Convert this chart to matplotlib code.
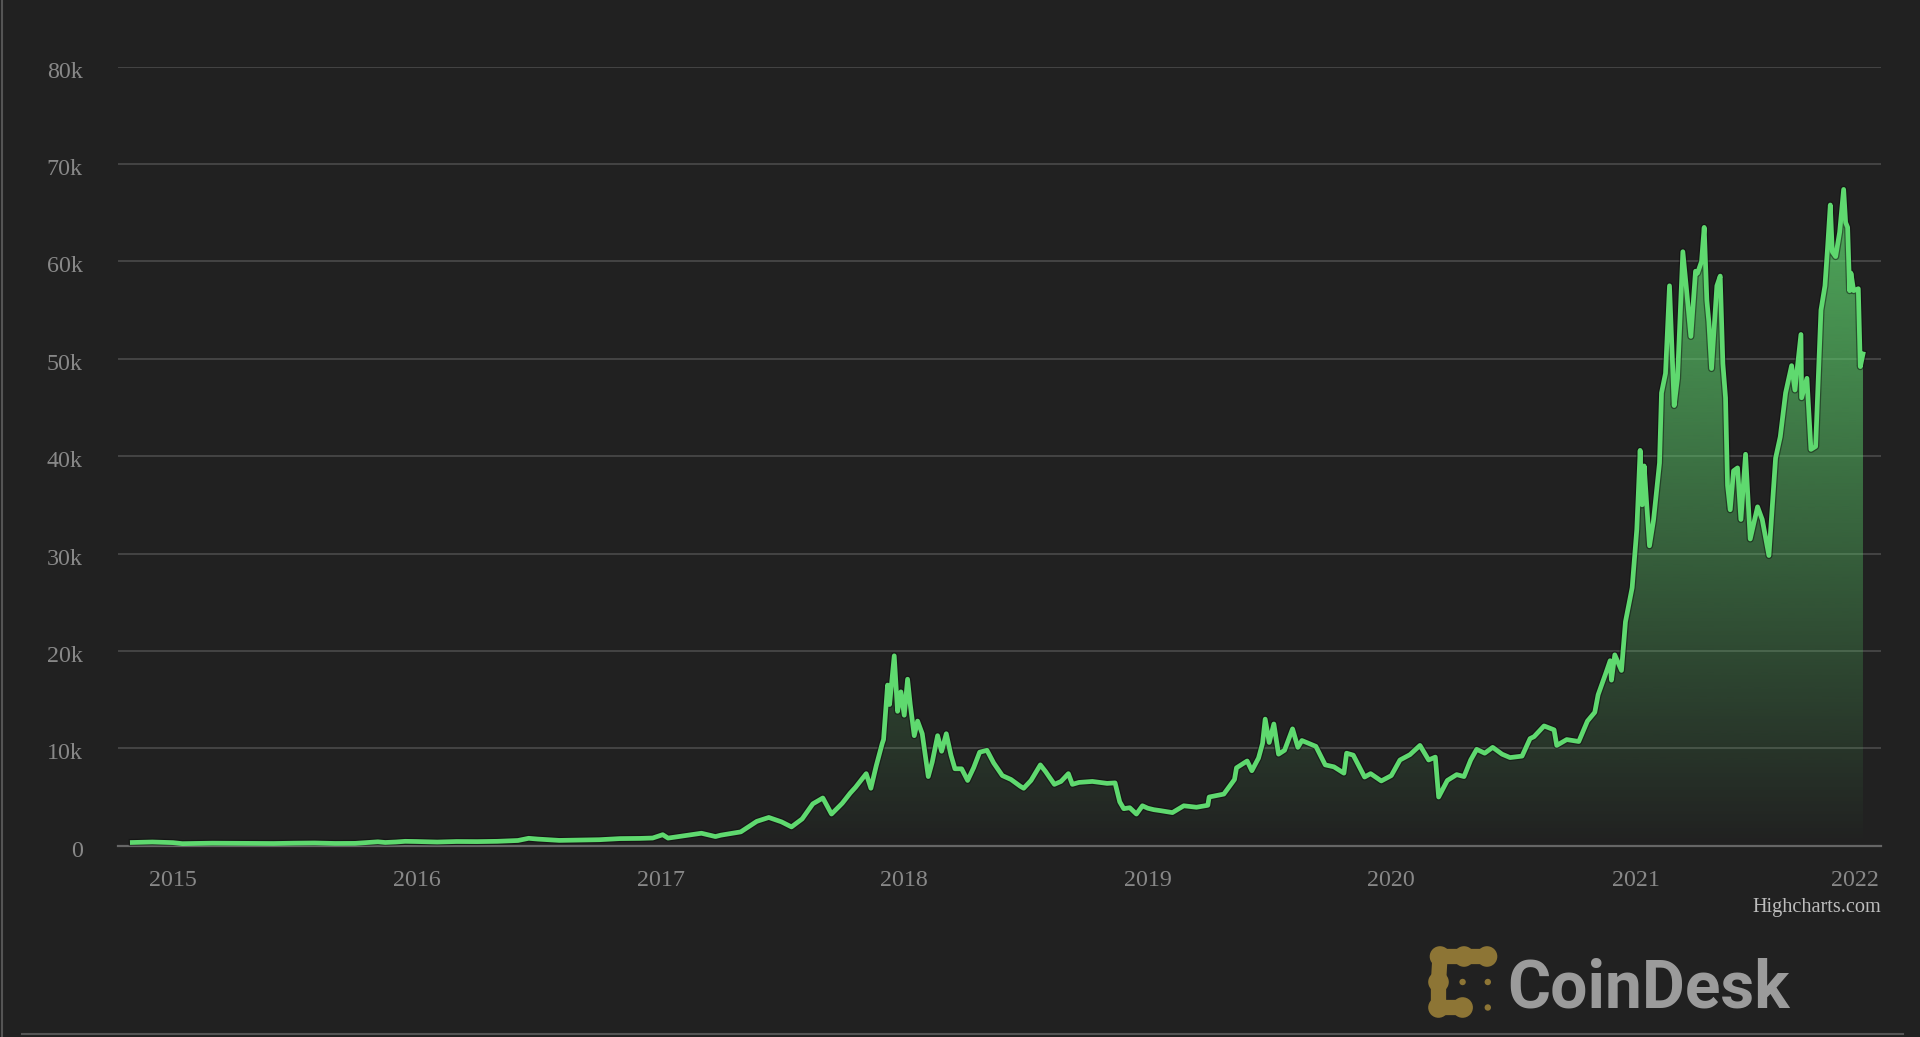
import matplotlib
matplotlib.use('Agg')
import matplotlib.pyplot as plt
import matplotlib.dates as mdates
import matplotlib.patheffects as pe
from matplotlib.patches import Circle
from matplotlib.transforms import ScaledTranslation
import numpy as np
import pandas as pd

plt.rcParams['font.family'] = ['Liberation Serif', 'DejaVu Serif']

# BTC price (USD)
dates = [
    '2014-11-01', '2014-12-01', '2015-01-01', '2015-01-15', '2015-02-01', '2015-03-01',
    '2015-04-01', '2015-05-01', '2015-06-01', '2015-07-01', '2015-08-01', '2015-09-01',
    '2015-10-01', '2015-11-04', '2015-11-15', '2015-12-01', '2015-12-15', '2016-01-01',
    '2016-02-01', '2016-03-01', '2016-04-01', '2016-05-01', '2016-06-01', '2016-06-17',
    '2016-07-01', '2016-08-02', '2016-09-01', '2016-10-01', '2016-11-01', '2016-12-01',
    '2016-12-20', '2017-01-04', '2017-01-12', '2017-02-01', '2017-03-03', '2017-03-24',
    '2017-04-01', '2017-05-01', '2017-05-25', '2017-06-12', '2017-07-01', '2017-07-16',
    '2017-08-01', '2017-08-17', '2017-09-01', '2017-09-14', '2017-09-30', '2017-10-12',
    '2017-10-20', '2017-11-05', '2017-11-12', '2017-11-20', '2017-11-29', '2017-12-01',
    '2017-12-07', '2017-12-10', '2017-12-17', '2017-12-22', '2017-12-27', '2018-01-01',
    '2018-01-06', '2018-01-10', '2018-01-16', '2018-01-21', '2018-01-28', '2018-02-06',
    '2018-02-12', '2018-02-20', '2018-02-26', '2018-03-05', '2018-03-12', '2018-03-18',
    '2018-03-28', '2018-04-06', '2018-04-15', '2018-04-24', '2018-05-05', '2018-05-15',
    '2018-05-28', '2018-06-10', '2018-06-24', '2018-06-29', '2018-07-10', '2018-07-24',
    '2018-08-01', '2018-08-14', '2018-08-24', '2018-09-04', '2018-09-10', '2018-09-20',
    '2018-10-10', '2018-11-01', '2018-11-13', '2018-11-20', '2018-11-26', '2018-12-05',
    '2018-12-15', '2018-12-24', '2019-01-01', '2019-01-10', '2019-01-20', '2019-02-07',
    '2019-02-24', '2019-03-15', '2019-04-01', '2019-04-03', '2019-04-25', '2019-05-11',
    '2019-05-14', '2019-05-30', '2019-06-06', '2019-06-16', '2019-06-22', '2019-06-26',
    '2019-07-02', '2019-07-09', '2019-07-16', '2019-07-25', '2019-08-06', '2019-08-14',
    '2019-08-20', '2019-09-10', '2019-09-24', '2019-10-07', '2019-10-22', '2019-10-26',
    '2019-11-05', '2019-11-22', '2019-12-01', '2019-12-17', '2020-01-01', '2020-01-14',
    '2020-01-29', '2020-02-13', '2020-02-26', '2020-03-07', '2020-03-12', '2020-03-25',
    '2020-04-08', '2020-04-19', '2020-04-29', '2020-05-08', '2020-05-20', '2020-06-01',
    '2020-06-15', '2020-06-27', '2020-07-15', '2020-07-27', '2020-08-02', '2020-08-17',
    '2020-09-01', '2020-09-05', '2020-09-20', '2020-10-08', '2020-10-21', '2020-11-01',
    '2020-11-06', '2020-11-18', '2020-11-24', '2020-11-26', '2020-12-01', '2020-12-11',
    '2020-12-17', '2020-12-27', '2021-01-03', '2021-01-08', '2021-01-11', '2021-01-14',
    '2021-01-22', '2021-01-28', '2021-02-06', '2021-02-09', '2021-02-15', '2021-02-21',
    '2021-02-28', '2021-03-05', '2021-03-13', '2021-03-18', '2021-03-25', '2021-04-01',
    '2021-04-04', '2021-04-10', '2021-04-14', '2021-04-18', '2021-04-21', '2021-04-25',
    '2021-05-03', '2021-05-08', '2021-05-12', '2021-05-16', '2021-05-19', '2021-05-23',
    '2021-05-28', '2021-06-03', '2021-06-08', '2021-06-15', '2021-06-22', '2021-07-03',
    '2021-07-10', '2021-07-20', '2021-07-30', '2021-08-06', '2021-08-14', '2021-08-23',
    '2021-08-28', '2021-09-06', '2021-09-07', '2021-09-15', '2021-09-21', '2021-09-28',
    '2021-10-06', '2021-10-12', '2021-10-16', '2021-10-20', '2021-10-23', '2021-10-28',
    '2021-11-03', '2021-11-09', '2021-11-12', '2021-11-15', '2021-11-18', '2021-11-20',
    '2021-11-24', '2021-12-01', '2021-12-04', '2021-12-08',
]
prices = [
    330, 380, 315, 210, 225, 260,
    245, 235, 225, 260, 280, 230,
    240, 400, 330, 380, 450, 430,
    375, 430, 420, 450, 535, 760,
    680, 545, 575, 615, 730, 750,
    790, 1130, 780, 980, 1280, 940,
    1080, 1420, 2500, 2900, 2450, 1930,
    2750, 4300, 4900, 3250, 4350, 5400,
    6000, 7400, 5900, 8200, 10500, 10900,
    16500, 14500, 19500, 13800, 15800, 13400,
    17100, 14500, 11300, 12800, 11500, 7100,
    8600, 11300, 9700, 11500, 9300, 7900,
    7900, 6700, 8000, 9600, 9800, 8500,
    7200, 6800, 6100, 5900, 6700, 8300,
    7600, 6300, 6600, 7400, 6300, 6500,
    6600, 6400, 6450, 4500, 3800, 3900,
    3250, 4100, 3850, 3700, 3600, 3400,
    4100, 3950, 4150, 5000, 5300, 6800,
    8000, 8700, 7700, 9000, 10500, 13000,
    10600, 12500, 9400, 9800, 12000, 10100,
    10800, 10200, 8300, 8100, 7450, 9500,
    9300, 7050, 7400, 6650, 7200, 8800,
    9350, 10300, 8800, 9100, 5000, 6700,
    7300, 7100, 8800, 9900, 9500, 10100,
    9400, 9050, 9200, 11000, 11200, 12300,
    11900, 10300, 10900, 10700, 12800, 13700,
    15500, 17800, 19000, 17000, 19600, 18000,
    23000, 26500, 32500, 40600, 35000, 39000,
    30800, 33400, 39300, 46500, 48500, 57500,
    45200, 48000, 61000, 57500, 52300, 59000,
    58800, 60000, 63500, 56000, 53800, 49000,
    57500, 58500, 49500, 46000, 37000, 34500,
    38500, 38800, 33500, 40200, 31500, 34800,
    33500, 29800, 39800, 42000, 46500, 49300,
    46800, 52500, 46000, 48000, 40700, 41000,
    55000, 57500, 61500, 65800, 61000, 60500,
    63000, 67400, 64000, 63500, 57000, 58800,
    57000, 57200, 49200, 50500,
]
year_labels = ['2015', '2016', '2017', '2018', '2019', '2020', '2021', '2022']
y_ticks = [0, 10000, 20000, 30000, 40000, 50000, 60000, 70000, 80000]
y_labels = ['0', '10k', '20k', '30k', '40k', '50k', '60k', '70k', '80k']

BG = '#212121'
GREEN = '#5fd96f'
W, H = 1920, 1037

fig = plt.figure(figsize=(19.2, 10.37), dpi=100, facecolor=BG)
ax = fig.add_axes([117.7 / W, 1 - 845.7 / H, (1881 - 117.7) / W, (845.7 - 66.7) / H])
ax.set_facecolor(BG)

x = mdates.date2num(pd.to_datetime(dates))
y = np.array(prices, dtype=float)

# gradient area under the line
coll = ax.fill_between(x, y, 0, facecolor='none', edgecolor='none')
rgb = matplotlib.colors.to_rgb(GREEN)
grad = np.zeros((256, 1, 4))
grad[..., :3] = rgb
grad[:, 0, 3] = np.linspace(0, 0.9, 256)
im = ax.imshow(grad, extent=[x[0], x[-1], 0, 80000], aspect='auto',
               origin='lower', zorder=2, interpolation='bilinear')
im.set_clip_path(coll.get_paths()[0], transform=ax.transData)

ax.plot(x, y, color=GREEN, lw=3.4, zorder=3, solid_joinstyle='round',
        path_effects=[pe.Stroke(linewidth=5.2, foreground='#0a0a0a', alpha=0.45), pe.Normal()])

year_pos = [mdates.date2num(pd.Timestamp(f'{yr}-01-01')) for yr in year_labels]
ax.set_xlim(year_pos[0] - 82.9, year_pos[-1] + 3)
ax.set_ylim(0, 80000)

ax.set_yticks(y_ticks)
ax.set_yticklabels(y_labels)
ax.set_xticks(year_pos)
ax.set_xticklabels(year_labels)
ax.yaxis.grid(True, color='#4a4a4a', lw=1.2)
ax.set_axisbelow(True)
for s in ax.spines.values():
    s.set_visible(False)
ax.axhline(0, color='#666666', lw=1.6, zorder=1.5, clip_on=False)

ax.tick_params(axis='both', length=0, labelsize=17.3, labelcolor='#888888')
ax.tick_params(axis='x', pad=17.5)
ax.tick_params(axis='y', pad=25)
ax.get_xticklabels()[-1].set_ha('right')
off = ScaledTranslation(0, -3 / 100, fig.dpi_scale_trans)
for lab in ax.get_yticklabels():
    lab.set_transform(lab.get_transform() + off)

# overlay in pixel coords for frame, credits and logo
ov = fig.add_axes([0, 0, 1, 1], zorder=5)
ov.set_xlim(0, W)
ov.set_ylim(H, 0)
ov.axis('off')
ov.patch.set_alpha(0)
ov.plot([1.5, 1.5], [0, H], color='#555555', lw=1.5)
ov.plot([22, 1903], [1034, 1034], color='#555555', lw=1.5)

ov.text(1881, 907.5, 'Highcharts.com', ha='right', va='center', fontsize=14.6, color='#bdbdbd')

GOLD = '#8d7535'
path_pts = [(1487, 956.5), (1464, 956.5), (1440, 956.5), (1438.5, 982),
            (1438.5, 1007.5), (1462.6, 1007.5)]
px, py = zip(*path_pts)
ov.plot(px, py, color=GOLD, lw=11, solid_capstyle='round', solid_joinstyle='round')
for cx, cy in path_pts:
    ov.add_patch(Circle((cx, cy), 10.3, color=GOLD, lw=0))
for cx, cy in [(1462.6, 982), (1487.8, 982), (1487.8, 1007.5)]:
    ov.add_patch(Circle((cx, cy), 3.2, color=GOLD, lw=0))
ov.text(1507, 1007.4, 'CoinDesk', ha='left', va='baseline', fontsize=47.5,
        fontweight='bold', family=['Roboto', 'DejaVu Sans'], color='#9b9b9b')

fig.savefig('out.png', dpi=100, facecolor=BG)
